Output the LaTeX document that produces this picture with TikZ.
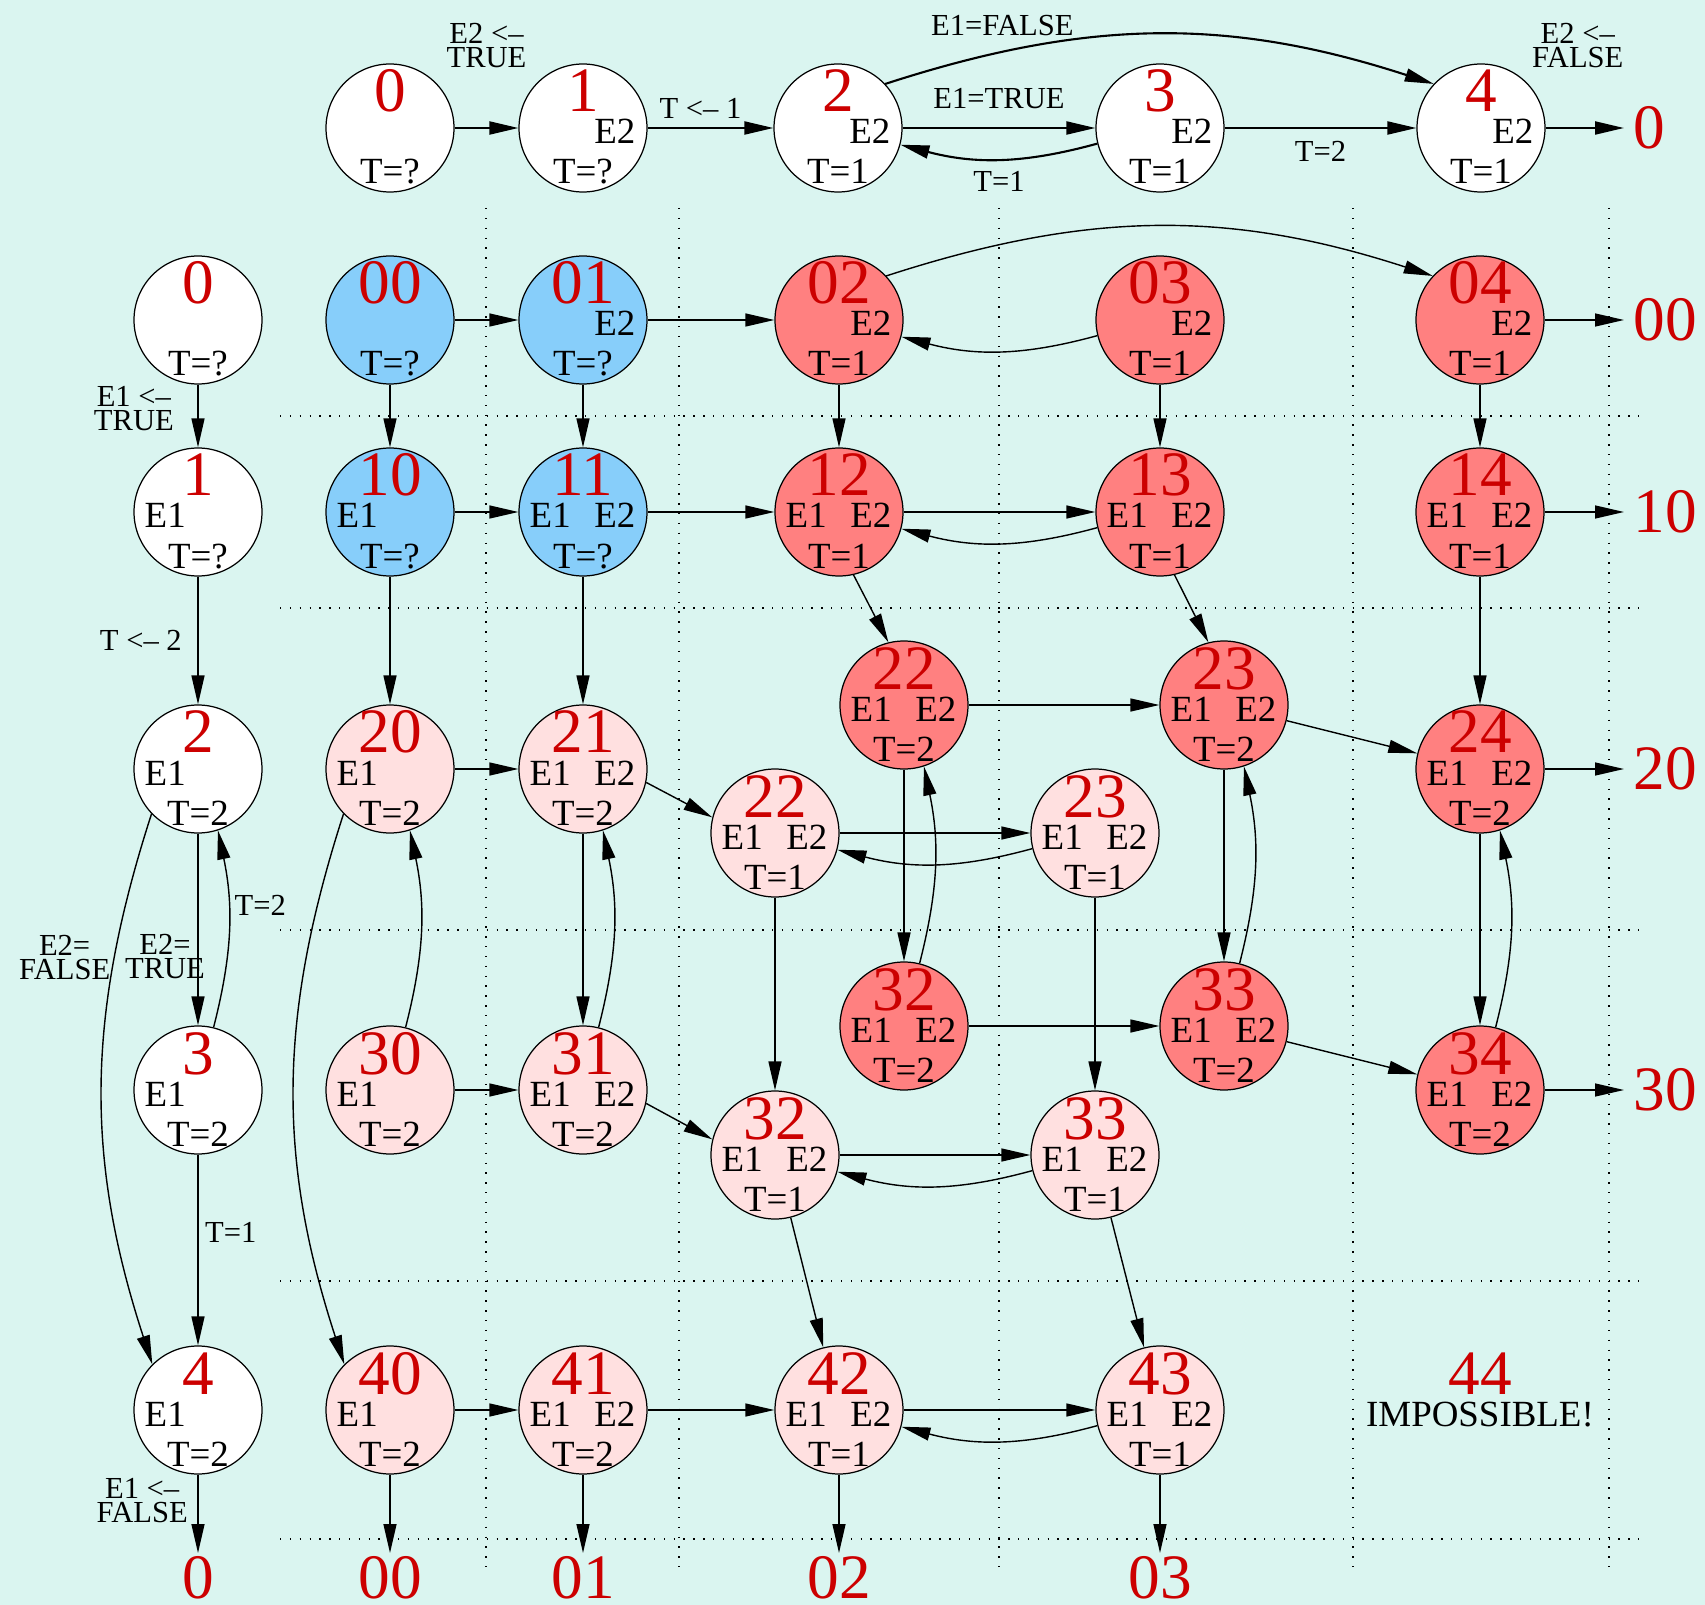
\documentclass[tikz,border=0pt]{standalone}
\usepackage{fontspec}
\setmainfont{Liberation Serif}
\usepackage{tikz}
\usetikzlibrary{arrows.meta,positioning}

\definecolor{bg}{RGB}{218,245,240}
\definecolor{sky}{RGB}{135,206,250}
\definecolor{hot}{RGB}{255,128,128}
\definecolor{pale}{RGB}{255,224,224}
\definecolor{numred}{RGB}{204,0,0}

\newcommand{\numfont}{\fontsize{18}{18}\selectfont}
\newcommand{\stfont}{\fontsize{10.5}{12}\selectfont}
\newcommand{\edgefont}{\fontsize{8.7}{6.8}\selectfont}

% state circle: name, position, fill, number, left flag, right flag, timer
\newcommand{\statenode}[7]{%
  \node[st, fill=#3] (#1) at (#2) {};
  \node[nr] (#1n) at ([yshift=0.16cm]#1.center) {#4};
  \node[el] (#1l) at ([xshift=-0.54cm,yshift=-0.16cm]#1.center) {#5};
  \node[er] (#1r) at ([xshift=0.53cm,yshift=-0.16cm]#1.center) {#6};
  \node[tv] (#1t) at ([yshift=-0.56cm]#1.center) {#7};
}

\begin{document}
\begin{tikzpicture}[
    st/.style={circle, draw, line width=0.35pt, minimum size=1.28cm, inner sep=0pt},
    nr/.style={anchor=base, inner sep=0pt, font=\numfont, text=numred},
    el/.style={anchor=base west, inner sep=0pt, font=\stfont},
    er/.style={anchor=base east, inner sep=0pt, font=\stfont},
    tv/.style={anchor=base, inner sep=0pt, font=\stfont},
    term/.style={inner sep=0.09cm, font=\numfont, text=numred},
    termb/.style={term, anchor=north, inner sep=0.03cm},
    elab/.style={font=\edgefont, align=center, inner sep=1pt},
    arr/.style={-{Triangle[length=0.29cm, width=0.13cm]}, line width=0.4pt},
    arrtop/.style={arr, line width=0.6pt},
    cellline/.style={dash pattern=on 0.4pt off 2.4pt, line width=0.4pt}
]
\useasboundingbox (0,0) rectangle (17.05,-16.05);
\fill[bg] (0,0) rectangle (17.05,-16.05);

% dotted cells
\draw[cellline] (2.80,-4.16) -- (16.40,-4.16) (2.80,-6.08) -- (16.40,-6.08)
  (2.80,-9.30) -- (16.40,-9.30) (2.80,-12.81) -- (16.40,-12.81) (2.80,-15.39) -- (16.40,-15.39);
\draw[cellline] (4.86,-2.08) -- (4.86,-15.70) (6.79,-2.08) -- (6.79,-15.70)
  (9.99,-2.08) -- (9.99,-15.70) (13.53,-2.08) -- (13.53,-15.70) (16.09,-2.08) -- (16.09,-15.70);

% top chain
\statenode{t0}{3.90,-1.28}{white}{0}{}{}{T=?}
\statenode{t1}{5.83,-1.28}{white}{1}{}{E2}{T=?}
\statenode{t2}{8.38,-1.28}{white}{2}{}{E2}{T=1}
\statenode{t3}{11.60,-1.28}{white}{3}{}{E2}{T=1}
\statenode{t4}{14.81,-1.28}{white}{4}{}{E2}{T=1}
\node[term, anchor=west] (tz) at (16.24,-1.28) {0};

\draw[arrtop] (t0) -- node[elab, above=0.56cm] (lt01) {E2 <--\\TRUE} (t1);
\draw[arrtop] (t1) -- node[elab, above=0.05cm, xshift=-0.1cm] (lt12) {T <-- 1} (t2);
\draw[arrtop] (t2) -- node[elab, above=0.15cm] (lt23) {E1=TRUE} (t3);
\draw[arrtop] (t3.194) to[bend left=15] node[elab, below=0.08cm] (lt32) {T=1} (t2.-15);
\draw[arrtop] (t2.43) to[out=18, in=162] node[elab, pos=0.23, above=0.08cm, xshift=-0.15cm] (lt24) {E1=FALSE} (t4.137);
\draw[arrtop] (t3) -- node[elab, below=0.09cm] (lt34) {T=2} (t4);
\draw[arrtop] (t4) -- node[elab, above=0.56cm, xshift=-0.07cm] (lt4z) {E2 <--\\FALSE} (tz);

% left chain
\statenode{a0}{1.98,-3.20}{white}{0}{}{}{T=?}
\statenode{a1}{1.98,-5.12}{white}{1}{E1}{}{T=?}
\statenode{a2}{1.98,-7.69}{white}{2}{E1}{}{T=2}
\statenode{a3}{1.98,-10.90}{white}{3}{E1}{}{T=2}
\statenode{a4}{1.98,-14.10}{white}{4}{E1}{}{T=2}
\node[termb] (az) at (1.98,-15.53) {0};

\draw[arr] (a0) -- node[elab, left=0.2cm, yshift=0.07cm] (la01) {E1 <--\\TRUE} (a1);
\draw[arr] (a1) -- node[elab, left=0.12cm] (la12) {T <-- 2} (a2);
\draw[arr] (a2) -- node[elab, pos=0.64, xshift=-0.33cm] (la23) {E2=\\TRUE} (a3);
\draw[arr] (a3.76) to[bend right=13] node[elab, pos=0.63, right=0.02cm] (la32) {T=2} (a2.-72);
\draw[arr] (a2.-136) to[bend right=18] node[elab, pos=0.25, anchor=east] (la24) {E2=\\FALSE} (a4.135);
\draw[arr] (a3) -- node[elab, pos=0.41, right=0.03cm] (la34) {T=1} (a4);
\draw[arr] (a4) -- node[elab, pos=0.33, left=0.06cm] (la4z) {E1 <--\\FALSE} (az);

% product states
\statenode{n00}{3.90,-3.20}{sky}{00}{}{}{T=?}
\statenode{n01}{5.83,-3.20}{sky}{01}{}{E2}{T=?}
\statenode{n02}{8.39,-3.20}{hot}{02}{}{E2}{T=1}
\statenode{n03}{11.60,-3.20}{hot}{03}{}{E2}{T=1}
\statenode{n04}{14.80,-3.20}{hot}{04}{}{E2}{T=1}
\statenode{n10}{3.90,-5.12}{sky}{10}{E1}{}{T=?}
\statenode{n11}{5.83,-5.12}{sky}{11}{E1}{E2}{T=?}
\statenode{n12}{8.39,-5.12}{hot}{12}{E1}{E2}{T=1}
\statenode{n13}{11.60,-5.12}{hot}{13}{E1}{E2}{T=1}
\statenode{n14}{14.80,-5.12}{hot}{14}{E1}{E2}{T=1}
\statenode{r22}{9.04,-7.05}{hot}{22}{E1}{E2}{T=2}
\statenode{r23}{12.24,-7.05}{hot}{23}{E1}{E2}{T=2}
\statenode{n20}{3.90,-7.69}{pale}{20}{E1}{}{T=2}
\statenode{n21}{5.83,-7.69}{pale}{21}{E1}{E2}{T=2}
\statenode{n24}{14.80,-7.69}{hot}{24}{E1}{E2}{T=2}
\statenode{p22}{7.75,-8.33}{pale}{22}{E1}{E2}{T=1}
\statenode{p23}{10.95,-8.33}{pale}{23}{E1}{E2}{T=1}
\statenode{r32}{9.04,-10.26}{hot}{32}{E1}{E2}{T=2}
\statenode{r33}{12.24,-10.26}{hot}{33}{E1}{E2}{T=2}
\statenode{n30}{3.90,-10.90}{pale}{30}{E1}{}{T=2}
\statenode{n31}{5.83,-10.90}{pale}{31}{E1}{E2}{T=2}
\statenode{n34}{14.80,-10.90}{hot}{34}{E1}{E2}{T=2}
\statenode{p32}{7.75,-11.55}{pale}{32}{E1}{E2}{T=1}
\statenode{p33}{10.95,-11.55}{pale}{33}{E1}{E2}{T=1}
\statenode{n40}{3.90,-14.10}{pale}{40}{E1}{}{T=2}
\statenode{n41}{5.83,-14.10}{pale}{41}{E1}{E2}{T=2}
\statenode{n42}{8.39,-14.10}{pale}{42}{E1}{E2}{T=1}
\statenode{n43}{11.60,-14.10}{pale}{43}{E1}{E2}{T=1}
\node[nr] (n44) at (14.80,-13.94) {44};
\node[tv] (imp) at (14.80,-14.26) {IMPOSSIBLE!};

\node[term, anchor=west] (z00) at (16.24,-3.20) {00};
\node[term, anchor=west] (z10) at (16.24,-5.12) {10};
\node[term, anchor=west] (z20) at (16.24,-7.69) {20};
\node[term, anchor=west] (z30) at (16.24,-10.90) {30};
\node[termb] (b00) at (3.90,-15.53) {00};
\node[termb] (b01) at (5.83,-15.53) {01};
\node[termb] (b02) at (8.39,-15.53) {02};
\node[termb] (b03) at (11.60,-15.53) {03};

% row 0
\draw[arr] (n00) -- (n01);
\draw[arr] (n01) -- (n02);
\draw[arr] (n02.43) to[out=18, in=162] (n04.137);
\draw[arr] (n03.194) to[bend left=15] (n02.-15);
\draw[arr] (n04) -- (z00);
\draw[arr] (n00) -- (n10);
\draw[arr] (n01) -- (n11);
\draw[arr] (n02) -- (n12);
\draw[arr] (n03) -- (n13);
\draw[arr] (n04) -- (n14);
% row 1
\draw[arr] (n10) -- (n11);
\draw[arr] (n11) -- (n12);
\draw[arr] (n12) -- (n13);
\draw[arr] (n13.194) to[bend left=15] (n12.-15);
\draw[arr] (n14) -- (z10);
\draw[arr] (n10) -- (n20);
\draw[arr] (n11) -- (n21);
\draw[arr] (n12.-77) -- (r22.104);
\draw[arr] (n13.-77) -- (r23.104);
\draw[arr] (n14) -- (n24);
% row 2
\draw[arr] (r22) -- (r23);
\draw[arr] (r23) -- (n24);
\draw[arr] (r22) -- (r32);
\draw[arr] (r32.76) to[bend right=13] (r22.-72);
\draw[arr] (r23) -- (r33);
\draw[arr] (r33.76) to[bend right=13] (r23.-72);
\draw[arr] (n24) -- (n34);
\draw[arr] (n34.76) to[bend right=13] (n24.-72);
\draw[arr] (n24) -- (z20);
\draw[arr] (n20) -- (n21);
\draw[arr] (n21.-12) -- (p22.166);
\draw[arr] (p22) -- (p23);
\draw[arr] (p23.194) to[bend left=15] (p22.-15);
\draw[arr] (p22) -- (p32);
\draw[arr] (p23) -- (p33);
\draw[arr] (n20.-136) to[bend right=18] (n40.135);
\draw[arr] (n21) -- (n31);
\draw[arr] (n31.76) to[bend right=13] (n21.-72);
\draw[arr] (n30.76) to[bend right=13] (n20.-72);
% row 3
\draw[arr] (n30) -- (n31);
\draw[arr] (n31.-12) -- (p32.166);
\draw[arr] (r32) -- (r33);
\draw[arr] (r33) -- (n34);
\draw[arr] (n34) -- (z30);
\draw[arr] (p32) -- (p33);
\draw[arr] (p33.194) to[bend left=15] (p32.-15);
\draw[arr] (p32) -- (n42);
\draw[arr] (p33) -- (n43);
% row 4
\draw[arr] (n40) -- (n41);
\draw[arr] (n41) -- (n42);
\draw[arr] (n42) -- (n43);
\draw[arr] (n43.194) to[bend left=15] (n42.-15);
\draw[arr] (n40) -- (b00);
\draw[arr] (n41) -- (b01);
\draw[arr] (n42) -- (b02);
\draw[arr] (n43) -- (b03);
\end{tikzpicture}
\end{document}
